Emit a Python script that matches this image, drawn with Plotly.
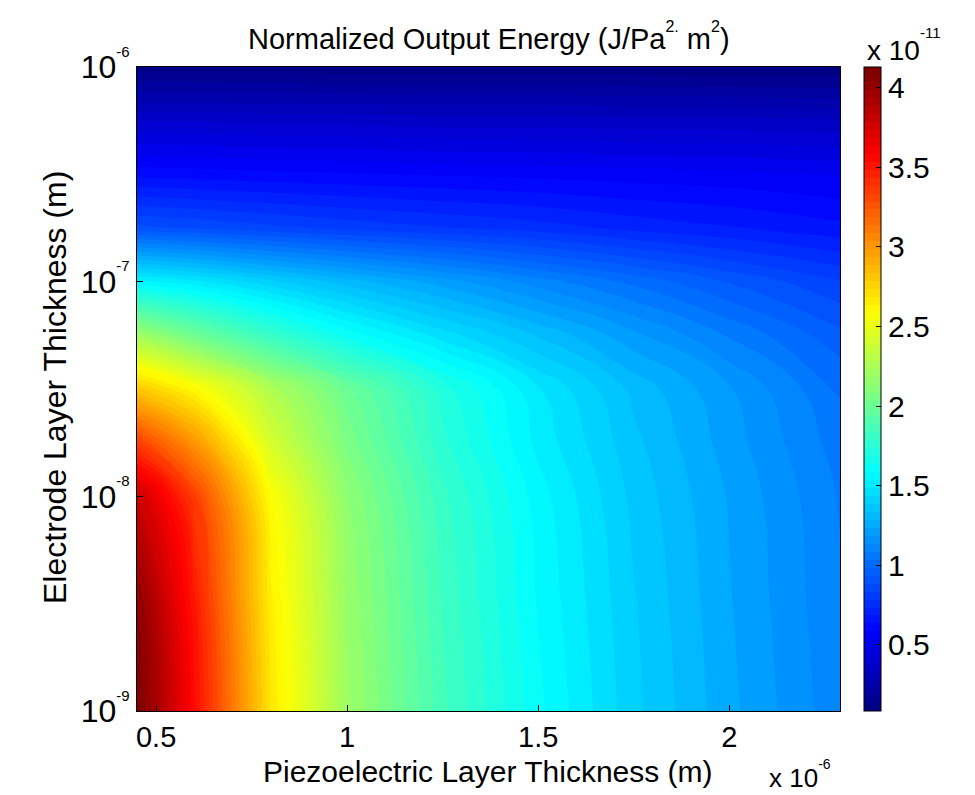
import plotly.graph_objects as go

# Piezoelectric layer thickness (x 1e-6 m)
piezo_um = [0.45, 0.6, 0.8, 1.0, 1.25, 1.5, 1.75, 2.0, 2.29]
# Electrode layer thickness, log10(m)
electrode_log = [-9.0, -8.5, -8.0, -7.75, -7.5, -7.25, -7.0, -6.75, -6.5, -6.25, -6.0]
# Normalized output energy (x 1e-11 J/Pa^2 m^2), rows follow electrode_log
energy = [
    [4.12, 3.55, 2.68, 2.20, 1.85, 1.60, 1.40, 1.25, 1.10],
    [4.05, 3.50, 2.65, 2.18, 1.83, 1.58, 1.39, 1.24, 1.09],
    [3.80, 3.35, 2.58, 2.14, 1.80, 1.56, 1.37, 1.23, 1.08],
    [3.35, 3.00, 2.42, 2.07, 1.75, 1.52, 1.35, 1.21, 1.06],
    [2.80, 2.60, 2.27, 2.00, 1.71, 1.49, 1.32, 1.19, 1.03],
    [2.22, 2.02, 1.80, 1.62, 1.46, 1.33, 1.20, 1.08, 0.95],
    [1.55, 1.50, 1.40, 1.31, 1.21, 1.11, 1.02, 0.93, 0.84],
    [0.90, 0.88, 0.85, 0.82, 0.79, 0.76, 0.72, 0.69, 0.65],
    [0.62, 0.61, 0.60, 0.59, 0.58, 0.57, 0.56, 0.55, 0.53],
    [0.38, 0.38, 0.37, 0.37, 0.36, 0.36, 0.35, 0.35, 0.34],
    [0.11, 0.11, 0.11, 0.10, 0.10, 0.10, 0.10, 0.09, 0.09],
]
x_ticks = [0.5, 1, 1.5, 2]
x_tick_text = ["0.5", "1", "1.5", "2"]
y_ticks = [-9, -8, -7, -6]
y_exponents = ["-9", "-8", "-7", "-6"]
cb_ticks = [0.5, 1, 1.5, 2, 2.5, 3, 3.5, 4]
cb_tick_text = ["0.5", "1", "1.5", "2", "2.5", "3", "3.5", "4"]

jet = [
    [0.0, "rgb(0,0,128)"],
    [0.125, "rgb(0,0,255)"],
    [0.375, "rgb(0,255,255)"],
    [0.625, "rgb(255,255,0)"],
    [0.875, "rgb(255,0,0)"],
    [1.0, "rgb(128,0,0)"],
]

FONT = "Liberation Sans"
L, R, T, B = 137, 135, 67, 84
W, H = 975, 795
pw, ph = W - L - R, H - T - B


def sup(t, size, shift=0):
    style = "font-size:%dpx" % size
    if shift:
        style += ";baseline-shift:%dpx" % shift
    return "<sup><span style='%s'>%s</span></sup>" % (style, t)


y_tick_text = ["10" + sup(e, 15, 8) for e in y_exponents]

fig = go.Figure()
fig.add_trace(go.Contour(
    x=piezo_um, y=electrode_log, z=energy,
    colorscale=jet, zmin=0.085, zmax=4.13,
    contours=dict(start=0.085, end=4.13, size=0.05, coloring="fill"),
    line=dict(width=0, smoothing=1.3),
    colorbar=dict(
        x=(864 - L) / pw, xanchor="left", xpad=0,
        y=0, yanchor="bottom", ypad=0, len=1, lenmode="fraction",
        thickness=17, outlinewidth=1, outlinecolor="black",
        tickvals=cb_ticks, ticktext=cb_tick_text,
        ticks="inside", ticklen=5, tickcolor="black",
        tickfont=dict(family=FONT, size=30, color="black"),
    ),
))

fig.update_layout(
    width=W, height=H,
    margin=dict(l=L, r=R, t=T, b=B),
    paper_bgcolor="white", plot_bgcolor="white",
    font=dict(family=FONT, color="black"),
    showlegend=False,
    xaxis=dict(
        range=[0.45, 2.29], tickvals=x_ticks, ticktext=x_tick_text,
        ticks="inside", ticklen=6, tickcolor="black",
        showline=True, linecolor="black", linewidth=1, mirror=True,
        showgrid=False, zeroline=False,
        tickfont=dict(family=FONT, size=29, color="black"),
    ),
    yaxis=dict(
        range=[-9, -6], tickvals=y_ticks, ticktext=y_tick_text,
        ticks="inside", ticklen=6, tickcolor="black",
        showline=True, linecolor="black", linewidth=1, mirror=True,
        showgrid=False, zeroline=False,
        tickfont=dict(family=FONT, size=32, color="black"),
    ),
    annotations=[
        dict(text="Normalized Output Energy (J/Pa" + sup("2.", 16, 5) + " m" + sup("2", 16, 5) + ")",
             xref="paper", yref="paper", x=0.5, y=1 + (67 - 36) / ph,
             xanchor="center", yanchor="middle", showarrow=False,
             font=dict(family=FONT, size=29, color="black")),
        dict(text="Piezoelectric Layer Thickness (m)",
             xref="paper", yref="paper", x=(488 - L) / pw, y=-(771 - 711) / ph,
             xanchor="center", yanchor="middle", showarrow=False,
             font=dict(family=FONT, size=30, color="black")),
        dict(text="Electrode Layer Thickness (m)", textangle=-90,
             xref="paper", yref="paper", x=(55 - L) / pw, y=(711 - 388) / ph,
             xanchor="center", yanchor="middle", showarrow=False,
             font=dict(family=FONT, size=32, color="black")),
        dict(text="x 10" + sup("-6", 14, 7),
             xref="paper", yref="paper", x=(800 - L) / pw, y=-(774 - 711) / ph,
             xanchor="center", yanchor="middle", showarrow=False,
             font=dict(family=FONT, size=26, color="black")),
        dict(text="x 10" + sup("-11", 15, 10),
             xref="paper", yref="paper", x=(904 - L) / pw, y=1 + (67 - 45) / ph,
             xanchor="center", yanchor="middle", showarrow=False,
             font=dict(family=FONT, size=28, color="black")),
    ],
)

fig.write_html("out.html")
